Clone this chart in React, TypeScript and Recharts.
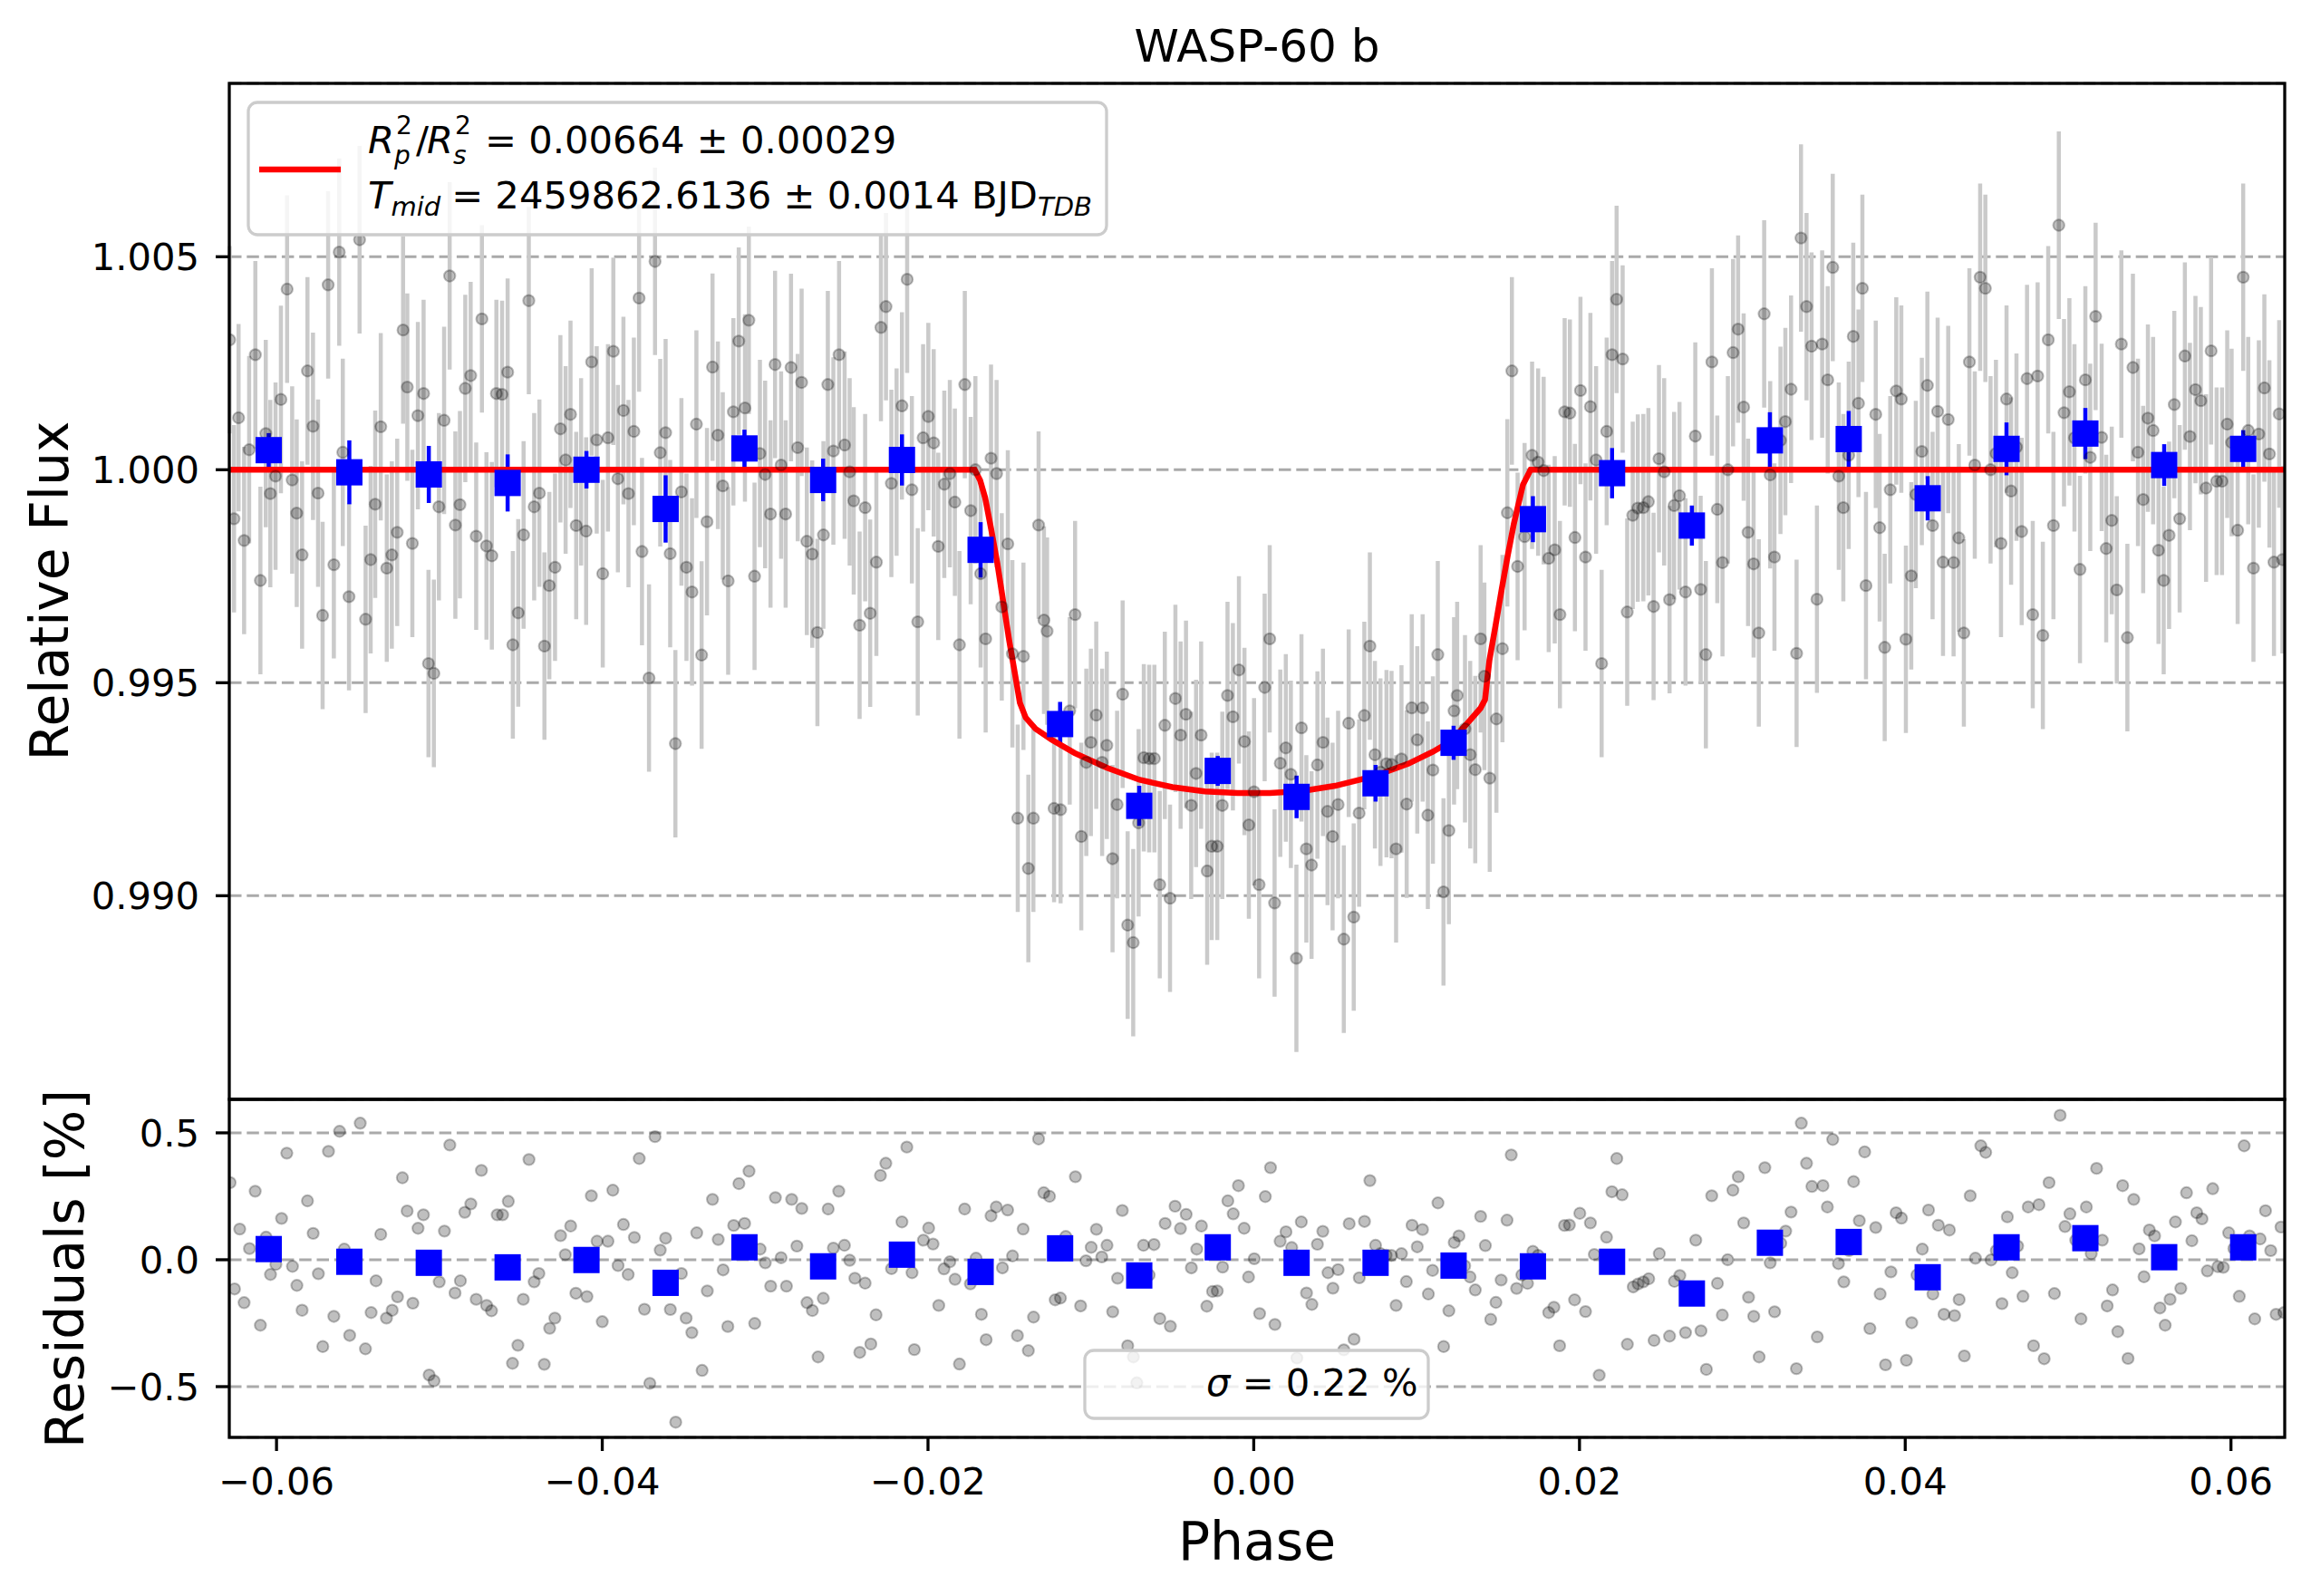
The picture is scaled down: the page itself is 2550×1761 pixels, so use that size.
import React from 'react';
import { ComposedChart, Scatter, Line, XAxis, YAxis, CartesianGrid, ErrorBar } from 'recharts';

const FONT = '"DejaVu Sans", sans-serif';

// ---------- Top panel: unbinned light-curve points ----------
const TOP_PHASE = [
  -0.06288, -0.06261, -0.06233, -0.06199, -0.06168, -0.06130, -0.06099, -0.06066, -0.06038, -0.06006,
  -0.05973, -0.05935, -0.05904, -0.05876, -0.05843, -0.05810, -0.05776, -0.05745, -0.05717, -0.05683,
  -0.05648, -0.05615, -0.05593, -0.05555, -0.05490, -0.05453, -0.05422, -0.05394, -0.05360, -0.05323,
  -0.05292, -0.05259, -0.05223, -0.05197, -0.05166, -0.05132, -0.05097, -0.05067, -0.05034, -0.05003,
  -0.04971, -0.04937, -0.04902, -0.04874, -0.04841, -0.04808, -0.04774, -0.04739, -0.04711, -0.04678,
  -0.04650, -0.04615, -0.04581, -0.04549, -0.04516, -0.04483, -0.04451, -0.04418, -0.04386, -0.04355,
  -0.04325, -0.04290, -0.04257, -0.04225, -0.04195, -0.04160, -0.04130, -0.04099, -0.04065, -0.04034,
  -0.03997, -0.03965, -0.03932, -0.03904, -0.03870, -0.03839, -0.03806, -0.03774, -0.03756,
  -0.03713, -0.03676, -0.03644, -0.03611, -0.03583, -0.03551, -0.03514, -0.03483, -0.03449, -0.03422,
  -0.03390, -0.03357, -0.03323, -0.03290, -0.03260, -0.03227, -0.03195, -0.03162, -0.03124, -0.03100,
  -0.03065, -0.03032, -0.03000, -0.02967, -0.02939, -0.02902, -0.02874, -0.02841, -0.02800, -0.02776,
  -0.02744, -0.02711, -0.02679, -0.02642, -0.02615, -0.02581, -0.02546, -0.02512, -0.02481, -0.02456,
  -0.02420, -0.02386, -0.02355, -0.02317, -0.02289, -0.02258, -0.02225, -0.02193, -0.02160, -0.02128,
  -0.02099, -0.02063, -0.02030, -0.01998, -0.01965, -0.01937, -0.01900, -0.01866, -0.01835, -0.01807,
  -0.01774, -0.01738, -0.01709, -0.01677, -0.01646, -0.01613, -0.01579, -0.01547, -0.01510, -0.01482,
  -0.01449, -0.01414, -0.01384, -0.01353, -0.01321, -0.01288, -0.01269,
  -0.01226, -0.01186, -0.01130, -0.01097, -0.01059, -0.01028, -0.01000, -0.00967, -0.00931, -0.00902,
  -0.00867, -0.00839, -0.00805, -0.00774, -0.00740, -0.00707, -0.00675, -0.00642, -0.00610, -0.00577,
  -0.00546, -0.00514, -0.00481, -0.00449, -0.00416, -0.00384, -0.00354, -0.00323, -0.00286, -0.00258,
  -0.00224, -0.00193, -0.00161, -0.00128, -0.00091, -0.00057, -0.00030, 0.00002, 0.00033, 0.00067,
  0.00098, 0.00128, 0.00163, 0.00197, 0.00228, 0.00262, 0.00293, 0.00323, 0.00355, 0.00391,
  0.00425, 0.00453, 0.00484, 0.00518, 0.00553, 0.00583, 0.00614, 0.00647, 0.00679, 0.00713,
  0.00744, 0.00778, 0.00815, 0.00846, 0.00874, 0.00907, 0.00939, 0.00970, 0.01004, 0.01037,
  0.01069, 0.01100, 0.01130, 0.01165, 0.01198, 0.01230, 0.01249,
  0.01297, 0.01329, 0.01360, 0.01393, 0.01416, 0.01449, 0.01490, 0.01527, 0.01557, 0.01585,
  0.01620, 0.01663, 0.01709, 0.01746, 0.01780, 0.01811, 0.01848, 0.01880, 0.01909, 0.01941,
  0.01972, 0.02006, 0.02037, 0.02067, 0.02102, 0.02136, 0.02167, 0.02200, 0.02228, 0.02265,
  0.02293, 0.02327, 0.02358, 0.02392, 0.02423, 0.02455, 0.02488, 0.02520, 0.02553, 0.02581,
  0.02614, 0.02651, 0.02711, 0.02744, 0.02776, 0.02813, 0.02846, 0.02878, 0.02911, 0.02943,
  0.02974, 0.03008, 0.03035, 0.03069, 0.03101, 0.03134, 0.03171, 0.03197, 0.03234, 0.03264,
  0.03299, 0.03333, 0.03360, 0.03394, 0.03425, 0.03458, 0.03490, 0.03524, 0.03555, 0.03592,
  0.03620, 0.03653, 0.03681, 0.03713, 0.03737, 0.03759,
  0.03819, 0.03843, 0.03874, 0.03908, 0.03945, 0.03976, 0.04004, 0.04037, 0.04065, 0.04102,
  0.04136, 0.04168, 0.04199, 0.04232, 0.04264, 0.04297, 0.04329, 0.04360, 0.04394, 0.04427,
  0.04460, 0.04492, 0.04524, 0.04557, 0.04588, 0.04622, 0.04650, 0.04683, 0.04715, 0.04748,
  0.04783, 0.04813, 0.04845, 0.04878, 0.04910, 0.04943, 0.04975, 0.05008, 0.05039, 0.05073,
  0.05106, 0.05136, 0.05169, 0.05206, 0.05234, 0.05268, 0.05299, 0.05327, 0.05364, 0.05398,
  0.05429, 0.05461, 0.05490, 0.05522, 0.05555, 0.05587, 0.05620, 0.05652, 0.05685, 0.05717,
  0.05748, 0.05782, 0.05815, 0.05847, 0.05878, 0.05912, 0.05945, 0.05977, 0.06004, 0.06041,
  0.06075, 0.06106, 0.06138, 0.06171, 0.06205, 0.06236, 0.06264, 0.06296, 0.06316,
];

const TOP_FLUX = [
  1.00305, 0.99885, 1.00122, 0.99834, 1.00047, 1.00270, 0.99740, 1.00085, 0.99944, 0.99985,
  1.00165, 1.00424, 0.99976, 0.99898, 0.99800, 1.00232, 1.00102, 0.99945, 0.99658, 1.00434,
  0.99777, 1.00511, 1.00041, 0.99702, 1.00540, 0.99649, 0.99789, 0.99919, 1.00101, 0.99769,
  0.99800, 0.99853, 1.00328, 1.00194, 0.99827, 1.00127, 1.00179, 0.99545, 0.99522, 0.99913,
  1.00116, 1.00455, 0.99870, 0.99918, 1.00191, 1.00221, 0.99844, 1.00354, 0.99821, 0.99798,
  1.00179, 1.00177, 1.00229, 0.99589, 0.99664, 0.99847, 1.00397, 0.99913, 0.99945, 0.99586,
  0.99728, 0.99771, 1.00096, 1.00023, 1.00130, 0.99869, 0.99995, 0.99856, 1.00253, 1.00070,
  0.99756, 1.00075, 1.00278, 0.99979, 1.00139, 0.99944, 1.00090, 1.00403, 0.99808,
  0.99511, 1.00489, 1.00040, 1.00087, 0.99803, 0.99357, 0.99948, 0.99771, 0.99713, 1.00107,
  0.99565, 0.99878, 1.00241, 1.00081, 0.99962, 0.99739, 1.00136, 1.00302, 1.00145, 1.00351,
  0.99750, 1.00038, 0.99989, 0.99896, 1.00247, 1.00011, 0.99896, 1.00240, 1.00052, 1.00205,
  0.99832, 0.99802, 0.99618, 0.99847, 1.00200, 1.00044, 1.00270, 1.00058, 0.99995, 0.99927,
  0.99635, 0.99911, 0.99663, 0.99783, 1.00334, 1.00383, 0.99968, 1.00018, 1.00150, 1.00447,
  0.99953, 0.99643, 1.00075, 1.00125, 1.00063, 0.99820, 0.99966, 0.99991, 0.99924, 0.99589,
  1.00200, 0.99904, 1.00000, 0.99756, 0.99603, 1.00027, 0.99991, 0.99678, 0.99826, 0.99568,
  0.99182, 0.99562, 0.99064, 0.99182, 0.99870, 0.99647, 0.99621,
  0.99205, 0.99202, 0.99434, 0.99660, 0.99139, 0.99313, 0.99360, 0.99424, 0.99313, 0.99353,
  0.99087, 0.99214, 0.99473, 0.98931, 0.98890, 0.99171, 0.99324, 0.99322, 0.99322, 0.99026,
  0.99400, 0.98994, 0.99463, 0.99377, 0.99426, 0.99212, 0.99287, 0.99377, 0.99058, 0.99116,
  0.99116, 0.99212, 0.99470, 0.99420, 0.99530, 0.99362, 0.99166, 0.99244, 0.99026, 0.99489,
  0.99603, 0.98983, 0.99311, 0.99347, 0.99285, 0.98853, 0.99394, 0.99110, 0.99072, 0.99307,
  0.99360, 0.99198, 0.99139, 0.99214, 0.98898, 0.99405, 0.98950, 0.99194, 0.99423, 0.99586,
  0.99331, 0.99290, 0.99310, 0.99308, 0.99110, 0.99321, 0.99215, 0.99441, 0.99366, 0.99441,
  0.99189, 0.99295, 0.99566, 0.99009, 0.99153, 0.99434, 0.99470,
  0.99392, 0.99331, 0.99296, 0.99603, 0.99515, 0.99276, 0.99415, 0.99580, 0.99899, 1.00232,
  0.99773, 0.99843, 1.00034, 1.00018, 0.99998, 0.99792, 0.99812, 0.99660, 1.00136, 1.00133,
  0.99841, 1.00186, 0.99795, 1.00148, 1.00023, 0.99545, 1.00090, 1.00270, 1.00400, 1.00260,
  0.99666, 0.99893, 0.99910, 0.99911, 0.99925, 0.99679, 1.00026, 0.99995, 0.99695, 0.99916,
  0.99939, 0.99713, 1.00079, 0.99719, 0.99566, 1.00253, 0.99907, 0.99782, 1.00000, 1.00275,
  1.00330, 1.00147, 0.99853, 0.99779, 0.99617, 1.00366, 0.99988, 0.99795, 1.00069, 1.00113,
  1.00189, 0.99569, 1.00544, 1.00383, 1.00290, 0.99696, 1.00295, 1.00211, 1.00475, 0.99985,
  0.99911, 1.00034, 1.00313, 1.00156, 1.00426, 0.99728,
  1.00130, 0.99864, 0.99583, 0.99953, 1.00185, 1.00166, 0.99602, 0.99751, 0.99942, 1.00043,
  1.00198, 0.99869, 1.00137, 0.99783, 1.00118, 0.99782, 0.99840, 0.99617, 1.00253, 1.00011,
  1.00452, 1.00426, 1.00000, 1.00038, 0.99827, 1.00166, 0.99950, 1.00053, 0.99855, 1.00214,
  0.99660, 1.00220, 0.99611, 1.00305, 0.99869, 1.00574, 1.00134, 1.00183, 1.00075, 0.99766,
  1.00211, 1.00029, 1.00360, 1.00076, 0.99815, 0.99881, 0.99718, 1.00295, 0.99606, 1.00240,
  1.00041, 0.99930, 1.00121, 1.00092, 0.99811, 0.99740, 0.99846, 1.00153, 0.99885, 1.00267,
  1.00078, 1.00188, 1.00162, 0.99957, 1.00279, 0.99973, 0.99973, 1.00107, 1.00064, 0.99858,
  1.00452, 1.00092, 0.99769, 1.00084, 1.00192, 1.00037, 0.99783, 1.00131, 0.99789,
];

const POINT_ERR = 0.0022;

// ---------- Binned points (shared phases) ----------
const BIN_PHASE = [
  -0.06048, -0.05553, -0.05065, -0.04581, -0.04097, -0.03611, -0.03127, -0.02644, -0.02160, -0.01677,
  -0.01189, -0.00703, -0.00221, 0.00263, 0.00748, 0.01227, 0.01714, 0.02200, 0.02690, 0.03169,
  0.03653, 0.04138, 0.04622, 0.05106, 0.05590, 0.06075,
];
const BIN_FLUX = [
  1.00046, 0.99994, 0.99989, 0.99969, 1.00000, 0.99908, 1.00050, 0.99976, 1.00023, 0.99812,
  0.99403, 0.99211, 0.99293, 0.99232, 0.99264, 0.99359, 0.99884, 0.99992, 0.99869, 1.00069,
  1.00072, 0.99933, 1.00049, 1.00085, 1.00011, 1.00049,
];
const BIN_ERR = [
  0.00040, 0.00075, 0.00067, 0.00067, 0.00044, 0.00079, 0.00044, 0.00050, 0.00060, 0.00065,
  0.00052, 0.00047, 0.00035, 0.00050, 0.00043, 0.00040, 0.00054, 0.00059, 0.00047, 0.00066,
  0.00066, 0.00052, 0.00062, 0.00060, 0.00049, 0.00044,
];
const BIN_RESID = [
  0.042, -0.008, -0.012, -0.030, -0.001, -0.091, 0.049, -0.026, 0.020, -0.048,
  0.045, -0.062, 0.049, -0.012, -0.012, -0.023, -0.026, -0.008, -0.133, 0.067,
  0.070, -0.069, 0.049, 0.085, 0.010, 0.049,
];

// ---------- Transit model (red curve) ----------
const MODEL_PHASE = [
  -0.0629, -0.01714, -0.01680, -0.01649, -0.01612, -0.01575, -0.01538, -0.01501, -0.01468, -0.01436,
  -0.01400, -0.01340, -0.01240, -0.01100, -0.00900, -0.00700, -0.00500, -0.00300, -0.00100, 0.00100,
  0.00300, 0.00500, 0.00750, 0.00950, 0.01100, 0.01208, 0.01300, 0.01392, 0.01420, 0.01447,
  0.01485, 0.01523, 0.01560, 0.01597, 0.01653, 0.01700, 0.0633,
];
const MODEL_FLUX = [
  1.00000, 1.00000, 0.99975, 0.99934, 0.99860, 0.99782, 0.99690, 0.99598, 0.99525, 0.99453,
  0.99418, 0.99392, 0.99366, 0.99335, 0.99300, 0.99272, 0.99255, 0.99245, 0.99241, 0.99241,
  0.99246, 0.99258, 0.99282, 0.99310, 0.99338, 0.99362, 0.99400, 0.99440, 0.99460, 0.99553,
  0.99635, 0.99721, 0.99800, 0.99873, 0.99965, 1.00000, 1.00000,
];

// ---------- Bottom panel: residuals [%] ----------
const RES_PHASE = [
  -0.06285, -0.06258, -0.06226, -0.06199, -0.06166, -0.06131, -0.06099, -0.06064, -0.06037, -0.06004,
  -0.05969, -0.05937, -0.05902, -0.05875, -0.05843, -0.05810, -0.05775, -0.05743, -0.05716, -0.05681,
  -0.05648, -0.05613, -0.05584, -0.05551, -0.05486, -0.05454, -0.05419, -0.05389, -0.05360, -0.05325,
  -0.05290, -0.05257, -0.05227, -0.05198, -0.05163, -0.05131, -0.05098, -0.05063, -0.05033, -0.05001,
  -0.04969, -0.04936, -0.04904, -0.04871, -0.04844, -0.04807, -0.04774, -0.04742, -0.04710, -0.04680,
  -0.04645, -0.04612, -0.04577, -0.04551, -0.04518, -0.04485, -0.04450, -0.04418, -0.04389, -0.04356,
  -0.04323, -0.04291, -0.04256, -0.04227, -0.04194, -0.04162, -0.04094, -0.04067, -0.04032, -0.04000,
  -0.03965, -0.03935, -0.03903, -0.03870, -0.03841, -0.03803, -0.03773, -0.03741, -0.03708, -0.03676,
  -0.03644, -0.03611, -0.03582, -0.03549, -0.03514, -0.03485, -0.03450, -0.03420, -0.03387, -0.03355,
  -0.03323, -0.03288, -0.03258, -0.03229, -0.03193, -0.03161, -0.03126, -0.03099, -0.03064, -0.03031,
  -0.02999, -0.02966, -0.02937, -0.02902, -0.02869, -0.02837, -0.02805, -0.02775, -0.02743, -0.02710,
  -0.02675, -0.02643, -0.02613, -0.02581, -0.02548, -0.02513, -0.02481, -0.02449, -0.02419, -0.02386,
  -0.02351, -0.02319, -0.02292, -0.02259, -0.02224, -0.02160, -0.02130, -0.02098, -0.02084,
  -0.02028, -0.01996, -0.01969, -0.01934, -0.01902, -0.01866, -0.01834, -0.01807, -0.01775, -0.01740,
  -0.01705, -0.01672, -0.01643, -0.01613, -0.01581, -0.01543, -0.01511, -0.01481, -0.01451, -0.01416,
  -0.01384, -0.01352, -0.01321, -0.01289, -0.01254, -0.01219, -0.01187, -0.01154, -0.01095, -0.01063,
  -0.01030, -0.00998, -0.00966, -0.00933, -0.00901, -0.00866, -0.00836, -0.00807, -0.00774, -0.00739,
  -0.00718, -0.00677, -0.00642, -0.00612, -0.00577, -0.00544, -0.00512, -0.00483, -0.00450, -0.00415,
  -0.00383, -0.00350, -0.00321, -0.00288, -0.00253, -0.00224, -0.00191, -0.00159, -0.00126, -0.00094,
  -0.00059, -0.00032, 0.00003, 0.00036, 0.00071, 0.00103, 0.00130, 0.00162, 0.00198, 0.00233,
  0.00265, 0.00292, 0.00324, 0.00357, 0.00391, 0.00424, 0.00456, 0.00486, 0.00518, 0.00553,
  0.00586, 0.00616, 0.00648, 0.00680, 0.00713, 0.00748, 0.00778, 0.00813, 0.00845, 0.00874,
  0.00907, 0.00937, 0.00972, 0.01004, 0.01036, 0.01072, 0.01098, 0.01131, 0.01166, 0.01198,
  0.01231, 0.01260, 0.01295, 0.01328, 0.01360, 0.01393, 0.01422, 0.01455, 0.01487, 0.01519,
  0.01555, 0.01581, 0.01614, 0.01646, 0.01681, 0.01714, 0.01746, 0.01811, 0.01843, 0.01878,
  0.01908, 0.01938, 0.01970, 0.02002, 0.02037, 0.02067, 0.02091, 0.02121,
  0.02166, 0.02199, 0.02229, 0.02262, 0.02294, 0.02330, 0.02360, 0.02392, 0.02425, 0.02458,
  0.02490, 0.02553, 0.02583, 0.02616, 0.02651, 0.02714, 0.02746, 0.02779, 0.02812, 0.02847,
  0.02877, 0.02910, 0.02942, 0.02975, 0.03008, 0.03038, 0.03070, 0.03103, 0.03138, 0.03171,
  0.03198, 0.03236, 0.03266, 0.03299, 0.03332, 0.03362, 0.03394, 0.03427, 0.03460, 0.03495,
  0.03522, 0.03555, 0.03590, 0.03623, 0.03655, 0.03683, 0.03718, 0.03751, 0.03783, 0.03819,
  0.03846, 0.03879, 0.03912, 0.03944, 0.03977, 0.04007, 0.04040, 0.04072, 0.04105, 0.04143,
  0.04170, 0.04203, 0.04238, 0.04271, 0.04303, 0.04331, 0.04363, 0.04399, 0.04431, 0.04464,
  0.04494, 0.04527, 0.04559, 0.04594, 0.04627, 0.04657, 0.04690, 0.04723, 0.04755, 0.04788,
  0.04821, 0.04853, 0.04883, 0.04916, 0.04951, 0.04981, 0.05011, 0.05047, 0.05079, 0.05112,
  0.05142, 0.05175, 0.05210, 0.05240, 0.05273, 0.05305, 0.05335, 0.05368, 0.05403, 0.05436,
  0.05466, 0.05499, 0.05531, 0.05564, 0.05596, 0.05626, 0.05659, 0.05692, 0.05727, 0.05760,
  0.05790, 0.05822, 0.05855, 0.05888, 0.05920, 0.05953, 0.05986, 0.06018, 0.06051, 0.06081,
  0.06114, 0.06146, 0.06179, 0.06212, 0.06244, 0.06277, 0.06307, 0.06325,
];

const RES_VALUE = [
  0.304, -0.115, 0.121, -0.169, 0.044, 0.270, -0.258, 0.089, -0.058, -0.018,
  0.163, 0.420, -0.026, -0.101, -0.199, 0.232, 0.104, -0.055, -0.342, 0.427,
  -0.223, 0.506, 0.042, -0.298, 0.538, -0.351, -0.208, -0.083, 0.100, -0.230,
  -0.199, -0.146, 0.323, 0.192, -0.171, 0.124, 0.177, -0.454, -0.477, -0.087,
  0.113, 0.452, -0.131, -0.083, 0.187, 0.220, -0.156, 0.352, -0.180, -0.201,
  0.177, 0.177, 0.230, -0.408, -0.337, -0.156, 0.395, -0.087, -0.054, -0.412,
  -0.270, -0.230, 0.095, 0.020, 0.133, -0.132, -0.145, 0.252, 0.073, -0.244,
  0.073, 0.274, -0.023, 0.139, -0.058, 0.088, 0.399, -0.195, -0.487, 0.485,
  0.038, 0.085, -0.196, -0.640, -0.054, -0.230, -0.287, 0.106, -0.436, -0.123,
  0.238, 0.080, -0.040, -0.263, 0.135, 0.300, 0.143, 0.349, -0.251, 0.042,
  -0.012, -0.104, 0.245, 0.008, -0.104, 0.238, 0.054, 0.202, -0.169, -0.200,
  -0.383, -0.152, 0.200, 0.046, 0.270, 0.057, -0.002, -0.073, -0.365, -0.092,
  -0.332, -0.217, 0.332, 0.380, -0.035, 0.149, 0.444, -0.051, -0.354,
  0.077, 0.125, 0.062, -0.180, -0.036, -0.008, -0.077, -0.411, 0.200, -0.095,
  0.006, -0.215, -0.315, 0.173, 0.208, -0.032, 0.196, 0.015, -0.299, 0.121,
  -0.358, -0.226, 0.476, 0.264, 0.250, -0.158, -0.151, 0.092, 0.327, -0.182,
  -0.004, 0.049, 0.120, 0.011, 0.057, -0.205, -0.073, 0.194, -0.339, -0.383,
  -0.485, 0.057, -0.060, 0.060, -0.232, 0.143, -0.262, 0.211, 0.123, 0.179,
  -0.032, 0.042, 0.133, -0.183, -0.125, -0.123, -0.029, 0.232, 0.181, 0.292,
  0.124, -0.068, 0.004, -0.212, 0.249, 0.363, -0.255, 0.073, 0.110, 0.048,
  -0.387, 0.149, -0.131, -0.176, 0.061, 0.112, -0.051, -0.112, -0.039, -0.355,
  0.142, -0.313, -0.071, 0.151, 0.312, 0.057, 0.024, 0.018, 0.017, -0.180,
  0.024, -0.086, 0.136, 0.051, 0.119, -0.135, -0.042, 0.224, -0.342, -0.201,
  0.068, 0.094, -0.024, -0.068, -0.119, 0.171, 0.056, -0.235, -0.168, -0.080,
  0.156, 0.413, -0.113, -0.060, -0.093, 0.033, 0.017, -0.208, -0.187, -0.339,
  0.135, 0.137, -0.158, 0.183, -0.204, 0.145, 0.021, -0.455,
  0.089, 0.268, 0.399, 0.256, -0.333, -0.107, -0.095, -0.087, -0.075, -0.318,
  0.024, -0.301, -0.085, -0.062, -0.287, 0.077, -0.280, -0.432, 0.252, -0.093,
  -0.218, 0.000, 0.274, 0.327, 0.145, -0.148, -0.223, -0.383, 0.363, -0.012,
  -0.205, 0.065, 0.113, 0.188, -0.429, 0.538, 0.380, 0.289, -0.304, 0.292,
  0.208, 0.474, -0.015, -0.087, 0.036, 0.308, 0.154, 0.425, -0.271, 0.127,
  -0.135, -0.414, -0.048, 0.185, 0.164, -0.396, -0.248, -0.060, 0.042, 0.196,
  -0.135, 0.136, -0.215, 0.117, -0.220, -0.157, -0.379, 0.252, 0.006, 0.449,
  0.423, -0.001, 0.036, -0.173, 0.169, -0.051, 0.054, -0.144, 0.208, -0.339,
  0.217, -0.390, 0.304, -0.133, 0.569, 0.131, 0.181, 0.077, -0.233, 0.208,
  0.024, 0.360, 0.077, -0.182, -0.119, -0.283, 0.292, -0.389, 0.238, 0.043,
  -0.067, 0.117, 0.094, -0.190, -0.258, -0.156, 0.149, -0.113, 0.264, 0.075,
  0.185, 0.161, -0.044, 0.280, -0.027, -0.030, 0.106, 0.044, -0.144, 0.449,
  0.094, -0.233, 0.082, 0.193, 0.036, -0.215, 0.129, -0.208,
];

// ---------- Axis settings ----------
const X_DOMAIN = [-0.0629, 0.0633];
const X_TICKS = [-0.06, -0.04, -0.02, 0, 0.02, 0.04, 0.06];
const TOP_Y_DOMAIN = [0.98522, 1.00907];
const TOP_Y_TICKS = [0.99, 0.995, 1.0, 1.005];
const RES_Y_DOMAIN = [-0.7, 0.632];
const RES_Y_TICKS = [-0.5, 0, 0.5];

const topPoints = TOP_PHASE.map((x, i) => ({ x, y: TOP_FLUX[i], e: POINT_ERR }));
const binPoints = BIN_PHASE.map((x, i) => ({ x, y: BIN_FLUX[i], e: BIN_ERR[i] }));
const modelPoints = MODEL_PHASE.map((x, i) => ({ x, y: MODEL_FLUX[i] }));
const resPoints = RES_PHASE.map((x, i) => ({ x, y: RES_VALUE[i] }));
const resBinPoints = BIN_PHASE.map((x, i) => ({ x, y: BIN_RESID[i] }));

const minus = (s: string) => s.replace('-', '\u2212');
const fmtX = (v: number) => minus(Math.abs(v) < 1e-9 ? '0.00' : v.toFixed(2));
const fmtTopY = (v: number) => v.toFixed(3);
const fmtResY = (v: number) => minus(Math.abs(v) < 1e-9 ? '0.0' : v.toFixed(1));

const GrayDot = (props: any) => {
  if (props.cx == null || props.cy == null) return null;
  return (
    <circle
      cx={props.cx}
      cy={props.cy}
      r={6.2}
      fill="#000"
      fillOpacity={0.25}
      stroke="#000"
      strokeOpacity={0.25}
      strokeWidth={2}
    />
  );
};

const BlueSquare = (props: any) => {
  if (props.cx == null || props.cy == null) return null;
  return <rect x={props.cx - 14.5} y={props.cy - 14.5} width={29} height={29} fill="#0000ff" />;
};

const tickStyle = { fontSize: 41.7, fill: '#000', fontFamily: FONT };
const tickLineStyle = { stroke: '#000', strokeWidth: 3.3 };
const GRID_DASH = '13.5 5.8';

export default function App() {
  return (
    <div
      style={{
        position: 'absolute',
        left: 0,
        top: 0,
        width: 2550,
        height: 1761,
        background: '#fff',
        fontFamily: FONT,
        overflow: 'hidden',
      }}
    >
      <div style={{ position: 'absolute', left: 0, top: 0 }}>
        <ComposedChart width={2550} height={1213} margin={{ top: 92, right: 29, bottom: 0, left: 0 }}>
          <CartesianGrid vertical={false} stroke="#aaaaaa" strokeWidth={3} strokeDasharray={GRID_DASH} fill="none" />
          <XAxis
            dataKey="x"
            type="number"
            domain={X_DOMAIN}
            allowDataOverflow
            ticks={X_TICKS}
            hide
          />
          <YAxis
            dataKey="y"
            type="number"
            domain={TOP_Y_DOMAIN}
            allowDataOverflow
            ticks={TOP_Y_TICKS}
            interval={0}
            width={253}
            tickFormatter={fmtTopY}
            tick={tickStyle}
            tickLine={tickLineStyle}
            tickSize={15}
            tickMargin={18}
            axisLine={false}
          />
          <Scatter data={topPoints} dataKey="y" shape={GrayDot} isAnimationActive={false}>
            <ErrorBar dataKey="e" direction="y" width={0} stroke="#cacaca" strokeWidth={4.5} isAnimationActive={false} />
          </Scatter>
          <Scatter data={binPoints} dataKey="y" shape={BlueSquare} isAnimationActive={false}>
            <ErrorBar dataKey="e" direction="y" width={0} stroke="#0000ff" strokeWidth={4.5} isAnimationActive={false} />
          </Scatter>
          <Line
            data={modelPoints}
            dataKey="y"
            type="linear"
            stroke="#ff0000"
            strokeWidth={6.5}
            dot={false}
            activeDot={false}
            isAnimationActive={false}
          />
        </ComposedChart>
      </div>

      <div style={{ position: 'absolute', left: 0, top: 1213 }}>
        <ComposedChart width={2550} height={548} margin={{ top: 0, right: 29, bottom: 115, left: 0 }}>
          <CartesianGrid vertical={false} stroke="#aaaaaa" strokeWidth={3} strokeDasharray={GRID_DASH} fill="none" />
          <XAxis
            dataKey="x"
            type="number"
            domain={X_DOMAIN}
            allowDataOverflow
            ticks={X_TICKS}
            interval={0}
            height={60}
            tickFormatter={fmtX}
            tick={tickStyle}
            tickLine={tickLineStyle}
            tickSize={15}
            tickMargin={18}
            axisLine={false}
          />
          <YAxis
            dataKey="y"
            type="number"
            domain={RES_Y_DOMAIN}
            allowDataOverflow
            ticks={RES_Y_TICKS}
            interval={0}
            width={253}
            tickFormatter={fmtResY}
            tick={tickStyle}
            tickLine={tickLineStyle}
            tickSize={15}
            tickMargin={18}
            axisLine={false}
          />
          <Scatter data={resPoints} dataKey="y" shape={GrayDot} isAnimationActive={false} />
          <Scatter data={resBinPoints} dataKey="y" shape={BlueSquare} isAnimationActive={false} />
        </ComposedChart>
      </div>

      <svg
        width={2550}
        height={1761}
        style={{ position: 'absolute', left: 0, top: 0, pointerEvents: 'none' }}
        fontFamily={FONT}
      >
        {/* panel frames */}
        <rect x={253} y={92} width={2268} height={1121} fill="none" stroke="#000" strokeWidth={3.3} />
        <rect x={253} y={1213} width={2268} height={373} fill="none" stroke="#000" strokeWidth={3.3} />

        {/* title */}
        <text x={1387} y={68} fontSize={50} textAnchor="middle" fill="#000">WASP-60 b</text>

        {/* axis labels */}
        <text x={1387} y={1721} fontSize={58.3} textAnchor="middle" fill="#000">Phase</text>
        <text x={75} y={652} fontSize={58.3} textAnchor="middle" fill="#000" transform="rotate(-90 75 652)">
          Relative Flux
        </text>
        <text x={92} y={1400} fontSize={58.3} textAnchor="middle" fill="#000" transform="rotate(-90 92 1400)">
          Residuals [%]
        </text>

        {/* top legend */}
        <rect x={274} y={113} width={947} height={146} rx={10} ry={10} fill="#fff" fillOpacity={0.8} stroke="#cccccc" strokeWidth={3.3} />
        <line x1={286} y1={187} x2={376} y2={187} stroke="#ff0000" strokeWidth={6.5} />
        <g fill="#000">
          <text x={406} y={169} fontSize={41.7} fontStyle="italic">R</text>
          <text x={437} y={148} fontSize={28}>2</text>
          <text x={435} y={181} fontSize={28} fontStyle="italic">p</text>
          <text x={459} y={169} fontSize={41.7}>/</text>
          <text x={471} y={169} fontSize={41.7} fontStyle="italic">R</text>
          <text x={502} y={148} fontSize={28}>2</text>
          <text x={500} y={181} fontSize={28} fontStyle="italic">s</text>
          <text x={535} y={169} fontSize={41.7}>= 0.00664 ± 0.00029</text>
          <text x={406} y={230} fontSize={41.7}>
            <tspan fontStyle="italic">T</tspan>
            <tspan fontSize={29} fontStyle="italic" dy={8}>mid</tspan>
            <tspan dy={-8} dx={12}>= 2459862.6136 ± 0.0014 BJD</tspan>
            <tspan fontSize={29} fontStyle="italic" dy={8}>TDB</tspan>
          </text>
        </g>

        {/* residual legend */}
        <rect x={1197} y={1490} width={379} height={75} rx={10} ry={10} fill="#fff" fillOpacity={0.8} stroke="#cccccc" strokeWidth={3.3} />
        <text x={1331} y={1540} fontSize={41.7} fill="#000">
          <tspan fontStyle="italic">σ</tspan>
          <tspan> = 0.22 %</tspan>
        </text>
      </svg>
    </div>
  );
}
